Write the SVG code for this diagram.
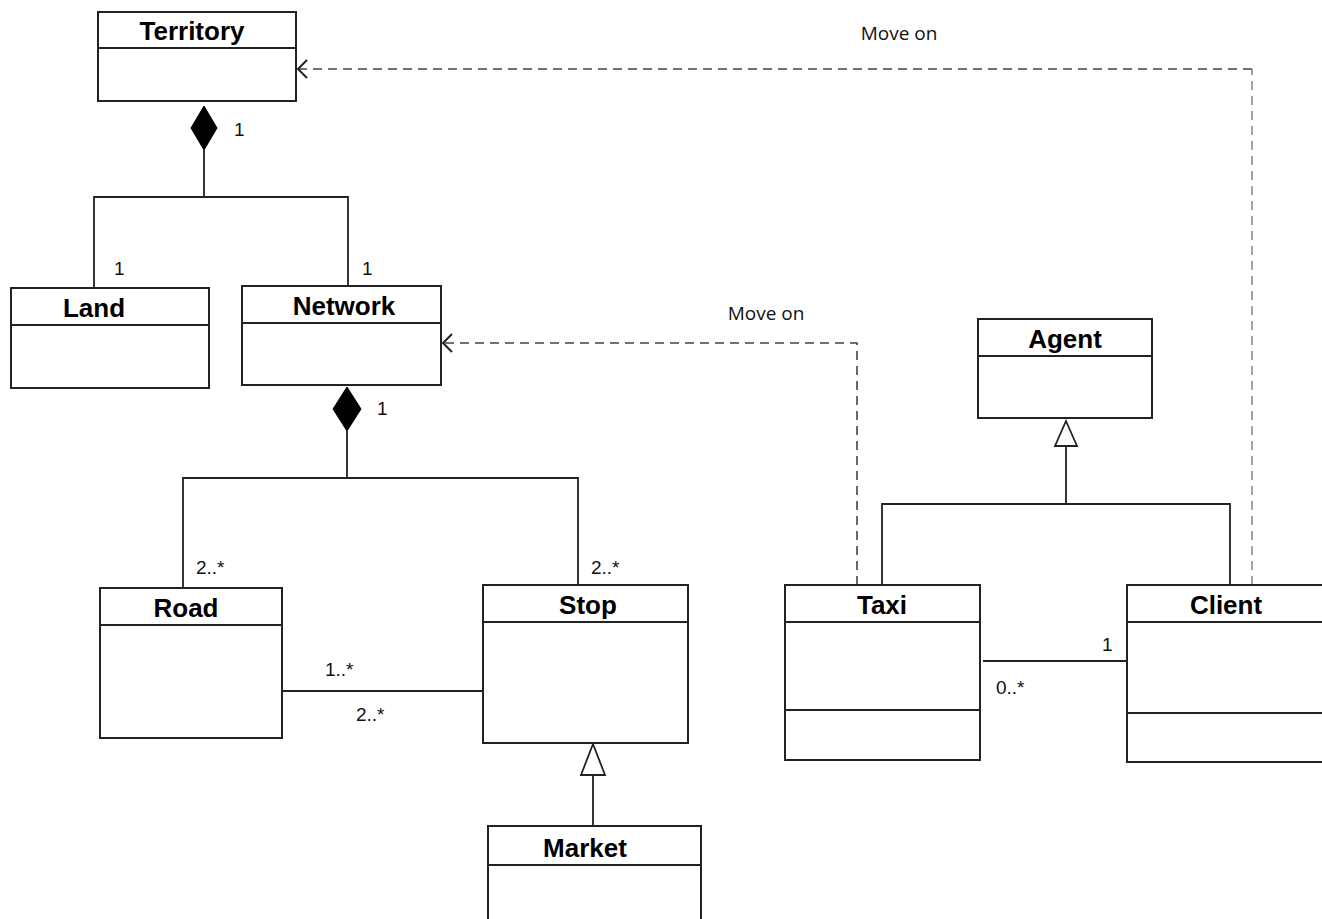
<svg xmlns="http://www.w3.org/2000/svg" width="1322" height="919" viewBox="0 0 1322 919">
<style>
.box{fill:#fff;stroke:#222;stroke-width:2}
.sep{stroke:#222;stroke-width:2}
.title{font-family:"Liberation Sans",Arial,sans-serif;font-weight:bold;font-size:26px;fill:#000;text-anchor:middle}
.mult{font-family:"Liberation Sans",Arial,sans-serif;font-size:19px;fill:#111}
.lbl{font-family:"Open Sans","Liberation Sans",sans-serif;font-size:19px;fill:#111;text-anchor:middle}
.ln{fill:none;stroke:#222;stroke-width:1.8}
.dash{fill:none;stroke:#444;stroke-width:1.6;stroke-dasharray:9,6}
.dash2{fill:none;stroke:#666;stroke-width:1.2;stroke-dasharray:9,6}
.dia{fill:#000;stroke:#000}
.tri{fill:#fff;stroke:#222;stroke-width:1.8}
.open{fill:none;stroke:#222;stroke-width:2}
</style>
<rect width="1322" height="919" fill="#fff"/>
<g id="connectors">
  <polygon class="dia" points="204,106 217,128 204,150 191,128"/>
  <path class="ln" d="M204,150 V197 M94,288 V197 H348 V287"/>
  <text class="mult" x="234" y="136">1</text>
  <text class="mult" x="114" y="275">1</text>
  <text class="mult" x="362" y="275">1</text>
  <polygon class="dia" points="347,387 361,409 347,431 333,409"/>
  <path class="ln" d="M347,431 V478 M183,588 V478 H578 V585"/>
  <text class="mult" x="377" y="415">1</text>
  <text class="mult" x="196" y="574">2..*</text>
  <text class="mult" x="591" y="574">2..*</text>
  <path class="ln" d="M282,691 H483"/>
  <text class="mult" x="325" y="676">1..*</text>
  <text class="mult" x="356" y="721">2..*</text>
  <path class="ln" d="M593,775 V826"/>
  <polygon class="tri" points="593,744 605,775 581,775"/>
  <path class="ln" d="M1066,446 V504 M882,585 V504 H1230 V585"/>
  <polygon class="tri" points="1066,421 1077,446 1055,446"/>
  <path class="ln" d="M983,661 H1127"/>
  <text class="mult" x="1102" y="651">1</text>
  <text class="mult" x="996" y="694">0..*</text>
  <path class="dash" d="M857,585 V343 H445"/>
  <path class="open" d="M452,334 L443,343 L452,352"/>
  <text class="lbl" x="766" y="320">Move on</text>
  <path class="dash2" d="M1252,585 V69"/>
  <path class="dash" d="M1252,69 H299"/>
  <path class="open" d="M307,60 L298,69 L307,78"/>
  <text class="lbl" x="899" y="40">Move on</text>
</g>
<g id="territory">
  <rect class="box" x="98" y="12" width="198" height="89"/>
  <line class="sep" x1="98" y1="48" x2="296" y2="48"/>
  <text class="title" x="192" y="40">Territory</text>
</g>
<g id="land">
  <rect class="box" x="11" y="288" width="198" height="100"/>
  <line class="sep" x1="11" y1="325" x2="209" y2="325"/>
  <text class="title" x="94" y="317">Land</text>
</g>
<g id="network">
  <rect class="box" x="242" y="286" width="199" height="99"/>
  <line class="sep" x1="242" y1="323" x2="441" y2="323"/>
  <text class="title" x="344" y="315">Network</text>
</g>
<g id="road">
  <rect class="box" x="100" y="588" width="182" height="150"/>
  <line class="sep" x1="100" y1="625" x2="282" y2="625"/>
  <text class="title" x="186" y="617">Road</text>
</g>
<g id="stop">
  <rect class="box" x="483" y="585" width="205" height="158"/>
  <line class="sep" x1="483" y1="622" x2="688" y2="622"/>
  <text class="title" x="588" y="614">Stop</text>
</g>
<g id="market">
  <path class="box" d="M488,930 V826 H701 V930"/>
  <line class="sep" x1="488" y1="865" x2="701" y2="865"/>
  <text class="title" x="585" y="857">Market</text>
</g>
<g id="agent">
  <rect class="box" x="978" y="319" width="174" height="99"/>
  <line class="sep" x1="978" y1="356" x2="1152" y2="356"/>
  <text class="title" x="1065" y="348">Agent</text>
</g>
<g id="taxi">
  <rect class="box" x="785" y="585" width="195" height="175"/>
  <line class="sep" x1="785" y1="622" x2="980" y2="622"/>
  <line class="sep" x1="785" y1="710" x2="980" y2="710"/>
  <text class="title" x="882" y="614">Taxi</text>
</g>
<g id="client">
  <path class="box" d="M1330,585 H1127 V762 H1330"/>
  <line class="sep" x1="1127" y1="622" x2="1330" y2="622"/>
  <line class="sep" x1="1127" y1="713" x2="1330" y2="713"/>
  <text class="title" x="1226" y="614">Client</text>
</g>
</svg>
